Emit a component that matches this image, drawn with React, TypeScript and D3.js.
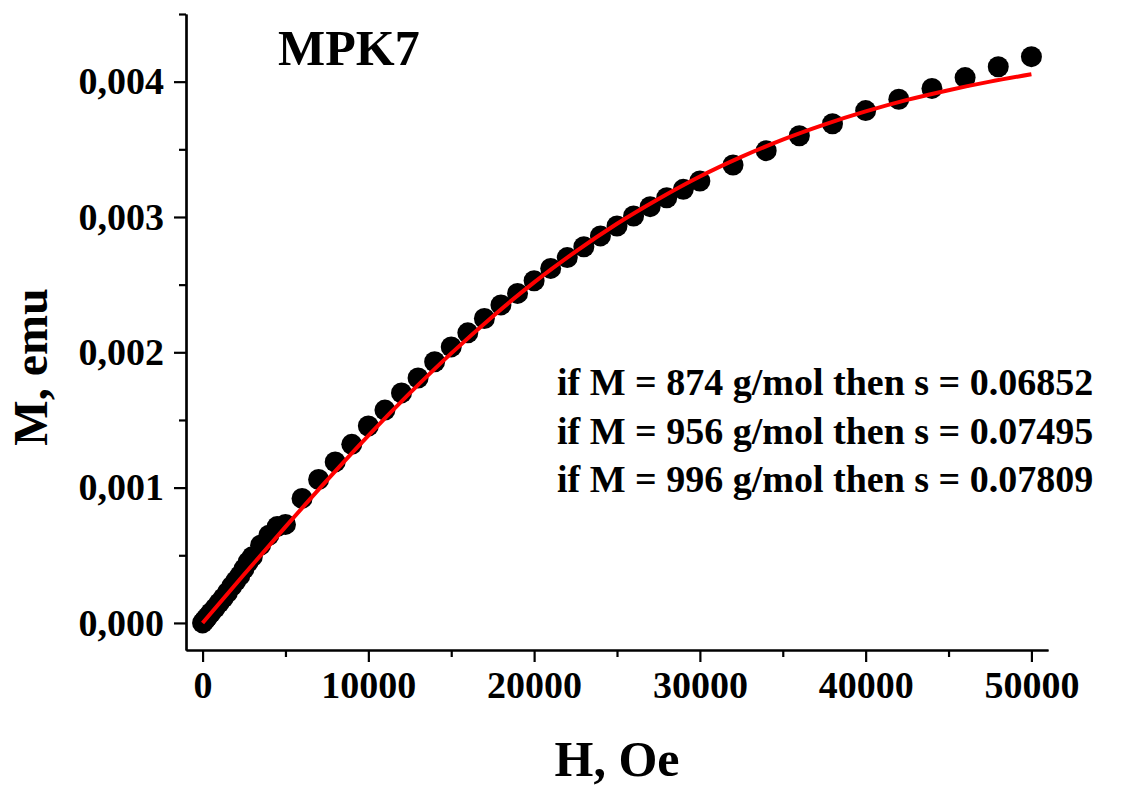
import React, { useEffect, useRef } from "react";
import * as d3 from "d3";

// measured field H (Oe) and magnetisation M (emu)
const fieldH = [
  0, 100, 200, 300, 500, 750, 1000, 1250, 1500, 1750, 2000, 2250, 2500, 2750, 3000, 3500, 4000, 4500, 5000,
  6000, 7000, 8000, 9000, 10000, 11000, 12000, 13000, 14000, 15000, 16000, 17000, 18000, 19000, 20000,
  21000, 22000, 23000, 24000, 25000, 26000, 27000, 28000, 29000, 30000, 32000, 34000, 36000, 38000,
  40000, 42000, 44000, 46000, 48000, 50000,
];
const momentM = [
  0, 0.000015, 0.00003, 0.000045, 0.000075, 0.00011, 0.000148, 0.000185, 0.000225, 0.00027, 0.00031,
  0.00035, 0.0004, 0.00045, 0.00049, 0.000575, 0.000648, 0.000712, 0.000728,
  0.00092, 0.00106, 0.00119, 0.00132, 0.001455, 0.001573, 0.0017, 0.00181, 0.00193, 0.00204, 0.002144,
  0.00225, 0.00235, 0.002435, 0.002529, 0.00262, 0.0027, 0.00278, 0.00286, 0.002933, 0.003007, 0.003076,
  0.003142, 0.003204, 0.003266, 0.003384, 0.00349, 0.0036, 0.003689, 0.003786, 0.00387, 0.00395, 0.00403,
  0.00411, 0.004185,
];

// fitted curve (red)
const fitH = [
  0, 2500, 5000, 7500, 10000, 12500, 15000, 17500, 20000, 22500, 25000, 27500, 30000, 32500, 35000,
  37500, 40000, 42500, 45000, 47500, 50000,
];
const fitM = [
  0, 0.000358, 0.00071, 0.001054, 0.001385, 0.001698, 0.001992, 0.002265, 0.002517, 0.002744, 0.00295,
  0.003133, 0.003299, 0.003444, 0.003572, 0.003683, 0.00378, 0.003865, 0.003937, 0.004, 0.004055,
];

const xMajor = [0, 10000, 20000, 30000, 40000, 50000];
const xMinor = [5000, 15000, 25000, 35000, 45000];
const yMajor = [0, 0.001, 0.002, 0.003, 0.004];
const yMinor = [0.0005, 0.0015, 0.0025, 0.0035, 0.0045];

const notes = [
  "if M = 874 g/mol then s = 0.06852",
  "if M = 956 g/mol then s = 0.07495",
  "if M = 996 g/mol then s = 0.07809",
];

const FONT = "'Liberation Serif', 'Times New Roman', serif";

const App = () => {
  const svgRef = useRef<SVGSVGElement>(null);

  useEffect(() => {
    const width = 1122;
    const height = 787;
    const svg = d3.select(svgRef.current).attr("width", width).attr("height", height);
    svg.selectAll("*").remove();

    const x = d3.scaleLinear().domain([-1000, 51000]).range([186, 1048]);
    const y = d3.scaleLinear().domain([-0.0002, 0.0045]).range([650, 14]);

    const styleAxis = (g) => {
      g.select(".domain").attr("stroke", "#000").attr("stroke-width", 2.2);
      g.selectAll(".tick line").attr("stroke", "#000").attr("stroke-width", 2.2);
      g.selectAll("text")
        .attr("fill", "#000")
        .style("font-family", FONT)
        .style("font-weight", "bold")
        .style("font-size", "38px");
    };

    // x axis
    svg
      .append("g")
      .attr("transform", "translate(0,650)")
      .call(d3.axisBottom(x).tickValues(xMinor).tickSize(7).tickFormat(() => "").tickSizeOuter(0))
      .call(styleAxis);
    svg
      .append("g")
      .attr("transform", "translate(0,650)")
      .call(d3.axisBottom(x).tickValues(xMajor).tickSize(12).tickPadding(9).tickFormat(d3.format("d")).tickSizeOuter(0))
      .call(styleAxis);

    // y axis
    const yFmt = (d) => d3.format(".3f")(d).replace(".", ",");
    svg
      .append("g")
      .attr("transform", "translate(186,0)")
      .call(d3.axisLeft(y).tickValues(yMinor).tickSize(7).tickFormat(() => "").tickSizeOuter(0))
      .call(styleAxis);
    svg
      .append("g")
      .attr("transform", "translate(186,0)")
      .call(d3.axisLeft(y).tickValues(yMajor).tickSize(12).tickPadding(10).tickFormat(yFmt).tickSizeOuter(0))
      .call(styleAxis);

    // data points
    const pts = fieldH.map((h, i) => ({ h, m: momentM[i] }));
    svg
      .append("g")
      .selectAll("circle")
      .data(pts)
      .enter()
      .append("circle")
      .attr("cx", (d) => x(d.h))
      .attr("cy", (d) => y(d.m))
      .attr("r", 10.5)
      .attr("fill", "#000");

    // fit line
    const fit = fitH.map((h, i) => ({ h, m: fitM[i] }));
    const line = d3
      .line()
      .x((d) => x(d.h))
      .y((d) => y(d.m))
      .curve(d3.curveMonotoneX);
    svg
      .append("path")
      .datum(fit)
      .attr("d", line)
      .attr("fill", "none")
      .attr("stroke", "#ff0000")
      .attr("stroke-width", 4);

    // labels
    const txt = (sel) => sel.attr("fill", "#000").style("font-family", FONT).style("font-weight", "bold");

    svg.append("text").attr("x", 278).attr("y", 65).style("font-size", "50px").text("MPK7").call(txt);

    svg
      .append("text")
      .attr("x", 617)
      .attr("y", 776)
      .attr("text-anchor", "middle")
      .style("font-size", "50px")
      .text("H, Oe")
      .call(txt);

    svg
      .append("text")
      .attr("transform", "translate(47,367) rotate(-90)")
      .attr("text-anchor", "middle")
      .style("font-size", "48px")
      .text("M, emu")
      .call(txt);

    svg
      .append("g")
      .selectAll("text")
      .data(notes)
      .enter()
      .append("text")
      .attr("x", 557)
      .attr("y", (d, i) => 395 + i * 48.5)
      .style("font-size", "38px")
      .text((d) => d)
      .call(txt);
  }, []);

  return (
    <div style={{ position: "absolute", left: 0, top: 0, background: "#fff" }}>
      <svg ref={svgRef} style={{ display: "block" }}></svg>
    </div>
  );
};

export default App;
